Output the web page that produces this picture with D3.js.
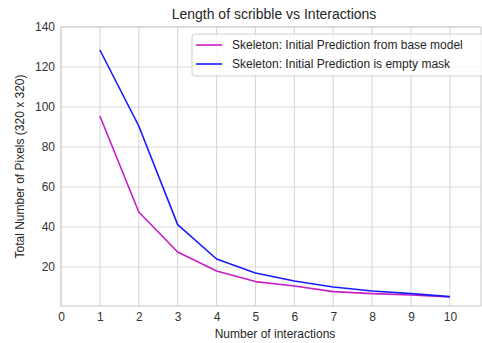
<!DOCTYPE html>
<html>
<head>
<meta charset="utf-8">
<script src="https://cdn.jsdelivr.net/npm/d3@7"></script>
<style>
  body { margin: 0; background: #fff; }
  text { font-family: "Liberation Sans", Arial, sans-serif; fill: #262626; }
</style>
</head>
<body>
<div id="chart"></div>
<script>
// data
let interactions = [1, 2, 3, 4, 5, 6, 7, 8, 9, 10];
let baseModel = [95.5, 47.5, 27.5, 18, 12.7, 10.5, 7.7, 6.7, 6, 5];
let emptyMask = [128.5, 90.5, 41.2, 24, 17, 13, 10, 8, 6.7, 5.2];
let xTicks = [0, 1, 2, 3, 4, 5, 6, 7, 8, 9, 10];
let yTicks = [20, 40, 60, 80, 100, 120, 140];
let seriesNames = ['Skeleton: Initial Prediction from base model', 'Skeleton: Initial Prediction is empty mask'];
let seriesColors = ['#c71ec7', '#1a1aff'];

let W = 482, H = 343;
let margin = { top: 27, right: 1, bottom: 37, left: 61 };
let width = W - margin.left - margin.right,
    height = H - margin.top - margin.bottom;

let x = d3.scaleLinear().domain([0, 10.8]).range([0, width]);
let y = d3.scaleLinear().domain([0.5, 140]).range([height, 0]);

let svg = d3.select('#chart').append('svg')
    .attr('width', W).attr('height', H);

let main = svg.append('g')
    .attr('transform', 'translate(' + margin.left + ',' + margin.top + ')');

// grid
main.append('g').selectAll('line').data(xTicks).enter().append('line')
    .attr('x1', d => x(d)).attr('x2', d => x(d))
    .attr('y1', 0).attr('y2', height)
    .attr('stroke', '#d9d9d9').attr('stroke-width', 1.1);
main.append('g').selectAll('line').data(yTicks).enter().append('line')
    .attr('x1', 0).attr('x2', width)
    .attr('y1', d => y(d)).attr('y2', d => y(d))
    .attr('stroke', '#d9d9d9').attr('stroke-width', 1.1);

// frame
main.append('rect').attr('width', width).attr('height', height)
    .attr('fill', 'none').attr('stroke', '#d0d0d0').attr('stroke-width', 1.2);

// axes
let xAxis = d3.axisBottom(x).tickValues(xTicks).tickSize(0).tickPadding(6);
let gx = main.append('g').attr('transform', 'translate(0,' + height + ')').call(xAxis);
let yAxis = d3.axisLeft(y).tickValues(yTicks).tickSize(0).tickPadding(6);
let gy = main.append('g').call(yAxis);
[gx, gy].forEach(g => {
    g.select('.domain').remove();
    g.selectAll('text').style('font-size', '12px').style('fill', '#333');
});

// lines
let line = d3.line()
    .x((d, i) => x(interactions[i]))
    .y(d => y(d));

[baseModel, emptyMask].forEach((s, i) => {
    main.append('path').datum(s)
        .attr('d', line)
        .attr('fill', 'none')
        .attr('stroke', seriesColors[i])
        .attr('stroke-width', 1.6)
        .attr('stroke-linejoin', 'round');
});

// legend
let lg = svg.append('g').attr('transform', 'translate(192,34)');
lg.append('rect').attr('width', 292).attr('height', 42).attr('rx', 3)
    .attr('fill', 'rgba(255,255,255,0.8)').attr('stroke', '#d0d0d0');
seriesNames.forEach((n, i) => {
    let yy = 11 + i * 19;
    lg.append('line').attr('x1', 4).attr('x2', 30).attr('y1', yy).attr('y2', yy)
        .attr('stroke', seriesColors[i]).attr('stroke-width', 1.6);
    lg.append('text').attr('x', 40).attr('y', yy + 4)
        .style('font-size', '12px').text(n);
});

// titles
svg.append('text').attr('x', 274).attr('y', 19).attr('text-anchor', 'middle')
    .style('font-size', '14px').text('Length of scribble vs Interactions');
svg.append('text').attr('x', 275).attr('y', 338).attr('text-anchor', 'middle')
    .style('font-size', '12px').text('Number of interactions');
svg.append('text').attr('transform', 'translate(24,' + (margin.top + height / 2) + ') rotate(-90)')
    .attr('text-anchor', 'middle').style('font-size', '12px')
    .text('Total Number of Pixels (320 x 320)');
</script>
</body>
</html>
